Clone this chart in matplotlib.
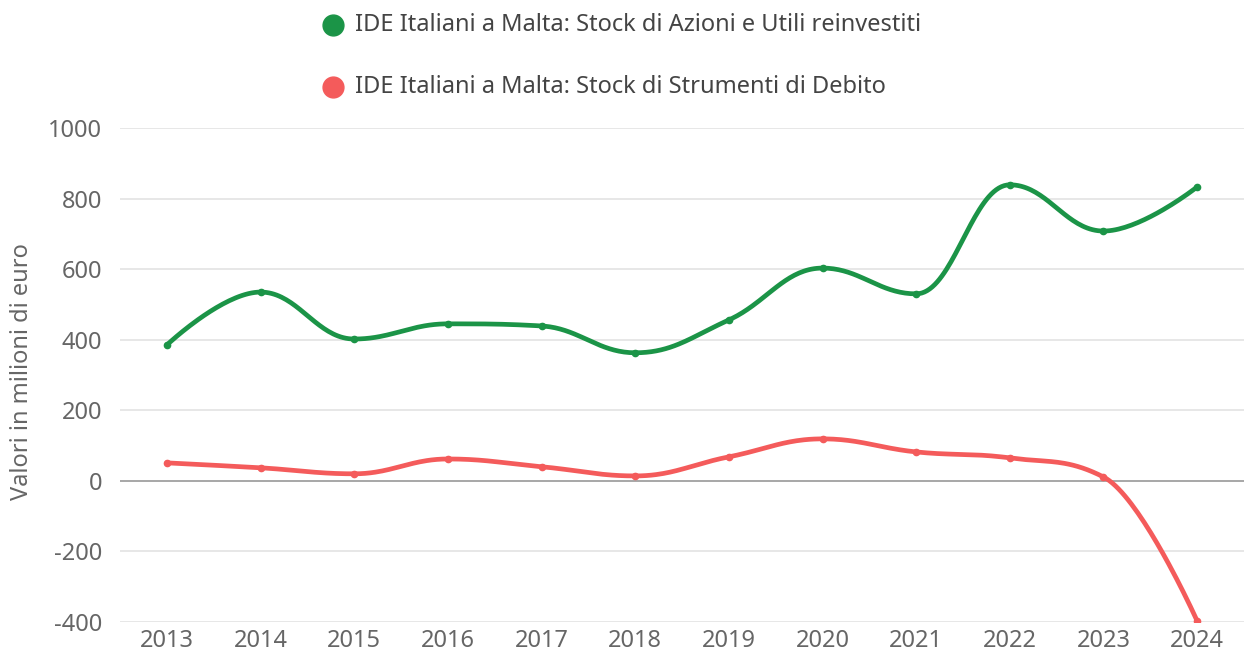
import matplotlib
import matplotlib.pyplot as plt
import numpy as np
from matplotlib.lines import Line2D

matplotlib.use('Agg')

years = ['2013', '2014', '2015', '2016', '2017', '2018',
         '2019', '2020', '2021', '2022', '2023', '2024']
azioni_utili = [385, 535, 402, 445, 439, 363, 456, 603, 530, 839, 708, 833]
strumenti_debito = [51, 37, 20, 62, 40, 14, 68, 119, 82, 65, 11, -397]
series_names = ['IDE Italiani a Malta: Stock di Azioni e Utili reinvestiti',
                'IDE Italiani a Malta: Stock di Strumenti di Debito']
series_colors = ['#1b9447', '#f45b5b']
y_ticks = [-400, -200, 0, 200, 400, 600, 800, 1000]

plt.rcParams['font.family'] = ['Noto Sans', 'DejaVu Sans']


def spline_curve(xs, ys, smoothing=1.5, steps=40):
    """
    Smooth curve through points, same control points as a Highcharts spline

    :param xs: x values
    :param ys: y values
    """
    n = len(xs)
    left = [(x, y) for x, y in zip(xs, ys)]
    right = [(x, y) for x, y in zip(xs, ys)]
    denom = smoothing + 1
    for i in range(1, n - 1):
        px, py = xs[i], ys[i]
        lx, ly = xs[i - 1], ys[i - 1]
        nx, ny = xs[i + 1], ys[i + 1]
        lcx = (smoothing * px + lx) / denom
        lcy = (smoothing * py + ly) / denom
        rcx = (smoothing * px + nx) / denom
        rcy = (smoothing * py + ny) / denom
        corr = (rcy - lcy) * (rcx - px) / (rcx - lcx) + py - rcy
        lcy += corr
        rcy += corr
        if lcy > ly and lcy > py:
            lcy = max(ly, py)
            rcy = 2 * py - lcy
        elif lcy < ly and lcy < py:
            lcy = min(ly, py)
            rcy = 2 * py - lcy
        if rcy > ny and rcy > py:
            rcy = max(ny, py)
            lcy = 2 * py - rcy
        elif rcy < ny and rcy < py:
            rcy = min(ny, py)
            lcy = 2 * py - rcy
        left[i] = (lcx, lcy)
        right[i] = (rcx, rcy)

    t = np.linspace(0, 1, steps)[:, None]
    parts = []
    for i in range(1, n):
        p0 = np.array([xs[i - 1], ys[i - 1]])
        p1 = np.array(right[i - 1])
        p2 = np.array(left[i])
        p3 = np.array([xs[i], ys[i]])
        pts = ((1 - t) ** 3 * p0 + 3 * (1 - t) ** 2 * t * p1
               + 3 * (1 - t) * t ** 2 * p2 + t ** 3 * p3)
        parts.append(pts)
    curve = np.vstack(parts)
    return curve[:, 0], curve[:, 1]


fig = plt.figure(figsize=(12.44, 6.54), dpi=100)
ax = fig.add_axes([120 / 1244, 1 - 622 / 654, 1 - 120 / 1244, (622 - 128) / 654])

x = np.arange(len(years))
for values, color in zip([azioni_utili, strumenti_debito], series_colors):
    cx, cy = spline_curve(list(x.astype(float)), values)
    ax.plot(cx, cy, color=color, lw=3.4, solid_capstyle='round', zorder=3)
    ax.plot(x, values, 'o', color=color, ms=4.5, zorder=4)

ax.set_xlim(-0.5, len(years) - 0.5)
ax.set_ylim(-400, 1000)
ax.set_xticks(x)
ax.set_xticklabels(years)
ax.set_yticks(y_ticks)
ax.set_yticklabels([str(v) for v in y_ticks])
ax.tick_params(axis='both', length=0, labelsize=17, colors='#666666')
ax.tick_params(axis='x', pad=5)
ax.tick_params(axis='y', pad=13)
ax.grid(axis='y', color='#e3e3e3', lw=1.2)
ax.axhline(0, color='#a8a8a8', lw=1.4, zorder=2)
ax.set_axisbelow(True)
for s in ax.spines.values():
    s.set_visible(False)

fig.text(22 / 1244, 1 - 372 / 654, 'Valori in milioni di euro', fontsize=17,
         color='#666666', rotation=90, ha='center', va='center')

legend_y = [25, 87]
for name, color, ly in zip(series_names, series_colors, legend_y):
    fig.add_artist(Line2D([333 / 1244], [1 - ly / 654], marker='o', ms=15,
                          color=color, transform=fig.transFigure))
    fig.text(355 / 1244, 1 - ly / 654, name, fontsize=17, color='#444444',
             va='center', ha='left')

fig.savefig('out.png', dpi=100)
